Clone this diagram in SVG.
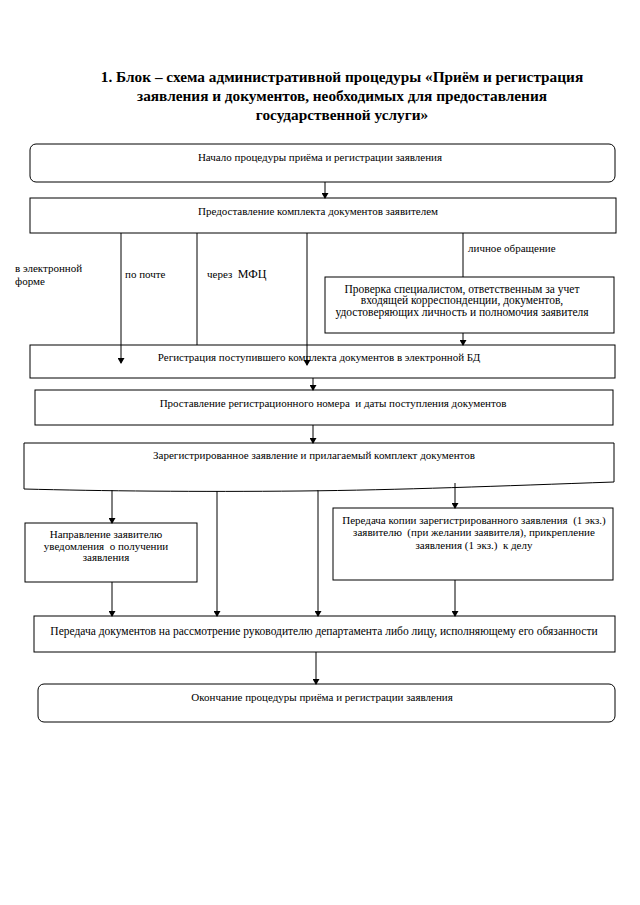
<svg xmlns="http://www.w3.org/2000/svg" width="640" height="905" viewBox="0 0 640 905">
<defs>
<marker id="ah" markerWidth="6" markerHeight="7" refX="5" refY="3.5" orient="auto" markerUnits="userSpaceOnUse">
<path d="M0,0 L6,3.5 L0,7 Z" fill="#000"/>
</marker>
<style>
.b{fill:#fff;stroke:#000;stroke-width:1}
.t{font-family:"Liberation Serif","Times New Roman",serif;font-size:11px;fill:#000;white-space:pre}
.m{font-size:11.5px}
.c{text-anchor:middle}
.h{font-family:"Liberation Serif","Times New Roman",serif;font-size:15.3px;font-weight:bold;fill:#000;text-anchor:middle}
.l{stroke:#000;stroke-width:1;fill:none}
.a{stroke:#000;stroke-width:1;fill:none;marker-end:url(#ah)}
</style>
</defs>
<rect width="640" height="905" fill="#fff"/>
<g id="title">
<text class="h" x="342" y="82">1. Блок – схема административной процедуры «Приём и регистрация</text>
<text class="h" x="342" y="101">заявления и документов, необходимых для предоставления</text>
<text class="h" x="342" y="120">государственной услуги»</text>
</g>
<g id="labels">
<text class="t" x="15" y="272">в электронной</text>
<text class="t" x="15" y="285">форме</text>
<text class="t" x="125" y="278">по почте</text>
<text class="t" x="207" y="278">через  <tspan font-size="12px">МФЦ</tspan></text>
<text class="t" x="468" y="252">личное обращение</text>
</g>
<g id="n1">
<rect class="b" x="30" y="144" width="585" height="38" rx="6"/>
<text class="t c" x="320" y="161">Начало процедуры приёма и регистрации заявления</text>
</g>
<g id="n2">
<rect class="b" x="30" y="198" width="586" height="35"/>
<text class="t c" x="318" y="215">Предоставление комплекта документов заявителем</text>
</g>
<g id="n3">
<rect class="b" x="325" y="277" width="289" height="56"/>
<text class="t m c" x="462" y="293">Проверка специалистом, ответственным за учет</text>
<text class="t m c" x="462" y="304">входящей корреспонденции, документов,</text>
<text class="t m c" x="462" y="316">удостоверяющих личность и полномочия заявителя</text>
</g>
<g id="n4">
<rect class="b" x="30" y="345" width="585" height="33"/>
<text class="t c" x="319" y="361">Регистрация поступившего комплекта документов в электронной БД</text>
</g>
<g id="n5">
<rect class="b" x="35" y="390" width="578" height="35"/>
<text class="t c" x="333" y="407">Проставление регистрационного номера  и даты поступления документов</text>
</g>
<g id="n6">
<path class="b" d="M24,443 H614 V482 C500,486 400,490 300,491 C200,492 100,491 24,489 Z"/>
<text class="t c" x="314" y="459">Зарегистрированное заявление и прилагаемый комплект документов</text>
</g>
<g id="n7">
<rect class="b" x="25" y="523" width="172" height="59"/>
<text class="t c" x="106" y="538">Направление заявителю</text>
<text class="t c" x="106" y="550">уведомления  о получении</text>
<text class="t c" x="106" y="561">заявления</text>
</g>
<g id="n8">
<rect class="b" x="333" y="508" width="280" height="72"/>
<text class="t c" x="474" y="524">Передача копии зарегистрированного заявления  (1 экз.)</text>
<text class="t c" x="474" y="536">заявителю  (при желании заявителя), прикрепление</text>
<text class="t c" x="474" y="549">заявления (1 экз.)  к делу</text>
</g>
<g id="n9">
<rect class="b" x="34" y="616" width="581" height="36"/>
<text class="t m c" x="324" y="635">Передача документов на рассмотрение руководителю департамента либо лицу, исполняющему его обязанности</text>
</g>
<g id="n10">
<rect class="b" x="38" y="684" width="577" height="38" rx="6"/>
<text class="t c" x="322" y="701">Окончание процедуры приёма и регистрации заявления</text>
</g>
<g id="connectors">
<line class="a" x1="325" y1="182" x2="325" y2="198"/>
<line class="a" x1="121" y1="233" x2="121" y2="363"/>
<line class="l" x1="197" y1="233" x2="197" y2="345"/>
<line class="a" x1="307" y1="233" x2="307" y2="365"/>
<line class="l" x1="463" y1="233" x2="463" y2="277"/>
<line class="a" x1="463" y1="333" x2="463" y2="345"/>
<line class="a" x1="313" y1="378" x2="313" y2="390"/>
<line class="a" x1="313" y1="425" x2="313" y2="443"/>
<line class="a" x1="112" y1="490" x2="112" y2="523"/>
<line class="a" x1="217" y1="491" x2="217" y2="616"/>
<line class="a" x1="318" y1="490" x2="318" y2="616"/>
<line class="a" x1="455" y1="483" x2="455" y2="508"/>
<line class="a" x1="112" y1="582" x2="112" y2="616"/>
<line class="a" x1="455" y1="580" x2="455" y2="616"/>
<line class="a" x1="316" y1="652" x2="316" y2="684"/>
</g>
</svg>
